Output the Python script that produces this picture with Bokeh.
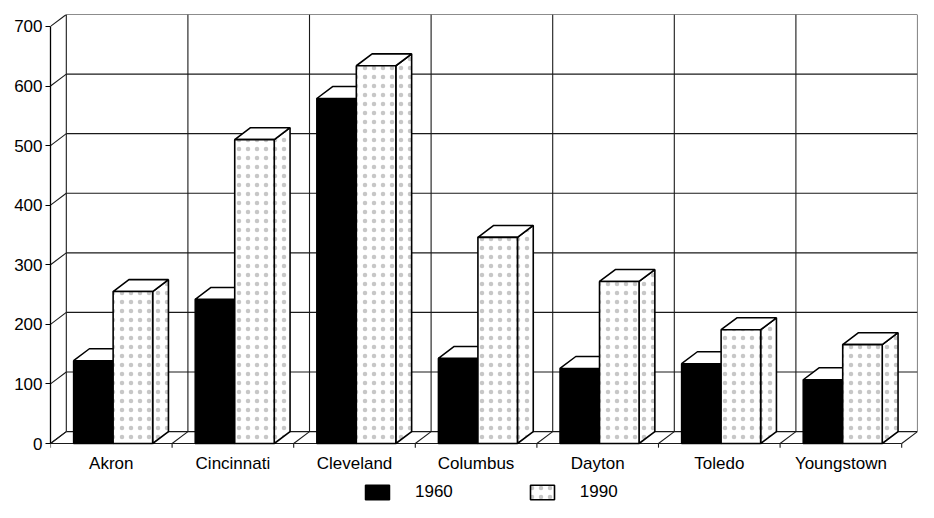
from bokeh.plotting import figure
from bokeh.models import Range1d, FixedTicker, Legend, LegendItem, ColumnDataSource
from bokeh.core.properties import value
from bokeh.embed import file_html
from bokeh.resources import INLINE

# ---- data ----
cities = ["Akron", "Cincinnati", "Cleveland", "Columbus", "Dayton", "Toledo", "Youngstown"]
pop1960 = [139, 242, 579, 143, 126, 134, 107]
pop1990 = [255, 510, 634, 346, 272, 191, 166]
y_ticks = [0, 100, 200, 300, 400, 500, 600, 700]
series_labels = ["1960", "1990"]

# ---- pseudo-3D geometry (in data units) ----
N = len(cities)
DX, DY = 0.13, 20.0
BAR_OFF, BAR_W = 0.19, 0.325
YMAX = y_ticks[-1]
LABEL_Y = -34          # category label row (below the floor)
FONT = "Liberation Sans"
LINE = "#1a1a1a"

p = figure(frame_width=867, frame_height=488,
           x_range=Range1d(0, N + DX), y_range=Range1d(-99, YMAX + DY),
           output_backend="svg", toolbar_location=None,
           min_border_left=50, min_border_right=1, min_border_top=14, min_border_bottom=0)
p.grid.visible = False
p.outline_line_color = None
p.background_fill_color = "white"
p.xaxis.visible = False

# value axis
p.yaxis.ticker = FixedTicker(ticks=y_ticks)
p.yaxis.bounds = (0, YMAX)
p.yaxis.major_tick_out = 5
p.yaxis.major_tick_in = 0
p.yaxis.minor_tick_line_color = None
p.yaxis.axis_line_color = "black"
p.yaxis.axis_line_width = 1.3
p.yaxis.major_tick_line_color = "black"
p.yaxis.major_label_standoff = 3
p.yaxis.major_label_text_font = FONT
p.yaxis.major_label_text_font_size = "17px"
p.yaxis.major_label_text_color = "black"

# category labels
centers = [i + 0.5 for i in range(N)]
p.text(x=centers, y=[LABEL_Y] * N, text=cities, text_align="center", text_baseline="middle",
       text_font=value(FONT), text_font_size="17px", text_color="black")

# ---- walls, floor and grid ----
x0s, y0s, x1s, y1s = [], [], [], []
def seg(a, b, c, d):
    x0s.append(a); y0s.append(b); x1s.append(c); y1s.append(d)

for v in y_ticks:
    seg(0, v, DX, v + DY)                 # left wall diagonals
    seg(DX, v + DY, N + DX, v + DY)       # back wall horizontals
for i in range(N + 1):
    seg(i + DX, DY, i + DX, YMAX + DY)    # back wall verticals
    seg(i, 0, i + DX, DY)                 # floor diagonals
    seg(i, 0, i, -7)                      # category ticks
seg(0, 0, N, 0)                           # floor front edge
p.segment(x0s, y0s, x1s, y1s, line_color=LINE, line_width=1.1)

# ---- bars ----
left60 = [i + BAR_OFF for i in range(N)]
right60 = [l + BAR_W for l in left60]
left90 = right60
right90 = [l + BAR_W for l in left90]

src60 = ColumnDataSource(dict(left=left60, right=right60, top=pop1960, bottom=[0] * N))
src90 = ColumnDataSource(dict(left=left90, right=right90, top=pop1990, bottom=[0] * N))

def top_faces(lefts, rights, vals):
    xs = [[l, r, r + DX, l + DX] for l, r in zip(lefts, rights)]
    ys = [[v, v, v + DY, v + DY] for v in vals]
    return xs, ys

def side_faces(rights, vals):
    xs = [[r, r + DX, r + DX, r] for r in rights]
    ys = [[0, DY, v + DY, v] for v in vals]
    return xs, ys

HATCH = dict(hatch_pattern="dot", hatch_scale=9, hatch_color="black", hatch_alpha=0.22, hatch_weight=0.5)

# 1960 (black)
r60 = p.quad(left="left", right="right", top="top", bottom="bottom", source=src60,
             fill_color="black", line_color="black", line_width=1.5)
tx, ty = top_faces(left60, right60, pop1960)
p.patches(tx, ty, fill_color="white", line_color="black", line_width=1.5)

# 1990 (white, stippled)
sx, sy = side_faces(right90, pop1990)
p.patches(sx, sy, fill_color="white", line_color="black", line_width=1.6, **HATCH)
tx, ty = top_faces(left90, right90, pop1990)
p.patches(tx, ty, fill_color="white", line_color="black", line_width=1.6)
r90 = p.quad(left="left", right="right", top="top", bottom="bottom", source=src90,
             fill_color="white", line_color="black", line_width=1.6, **HATCH)

# ---- legend ----
legend = Legend(items=[LegendItem(label=series_labels[0], renderers=[r60]),
                       LegendItem(label=series_labels[1], renderers=[r90])],
                orientation="horizontal", location=(312, 0),
                glyph_width=30, glyph_height=18, label_standoff=23, spacing=74,
                padding=0, margin=0, border_line_color=None, background_fill_alpha=0,
                label_text_font=FONT, label_text_font_size="17px", label_text_color="black")
p.add_layout(legend)

open("out.html", "w").write(file_html(p, INLINE))
